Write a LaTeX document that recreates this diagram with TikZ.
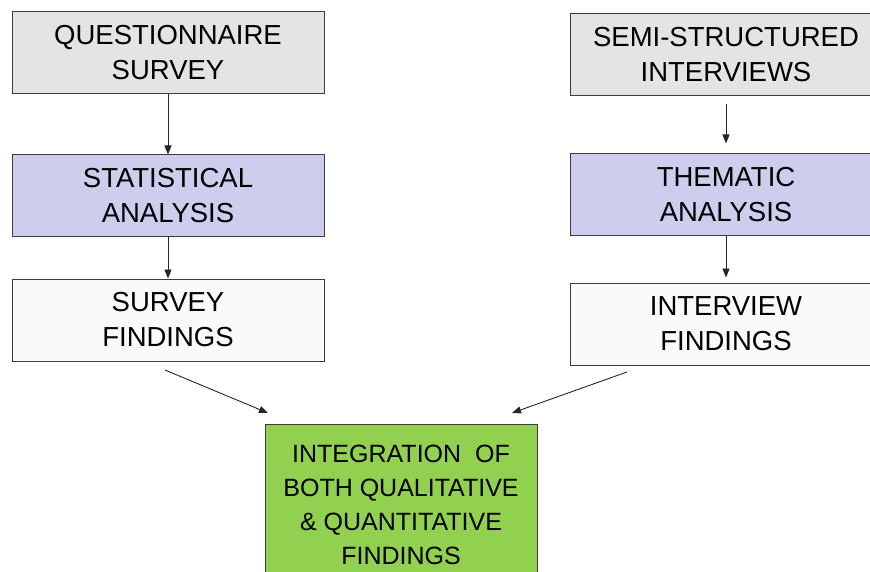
\documentclass[tikz,border=0pt]{standalone}
\usepackage{fontspec}
\setmainfont{Liberation Sans}
\usetikzlibrary{arrows.meta, positioning}

\definecolor{srcgray}{RGB}{228,228,228}
\definecolor{anlblue}{RGB}{205,205,238}
\definecolor{fndwhite}{RGB}{250,250,253}
\definecolor{intgreen}{RGB}{146,208,80}
\definecolor{edgegray}{RGB}{60,60,60}

\begin{document}
\begin{tikzpicture}[x=1pt, y=-1pt,
        box/.style = {draw=edgegray, line width=1pt, minimum width=312pt, minimum height=82pt,
                      align=center, inner sep=0pt, font=\fontsize{27.5}{35}\selectfont},
        source/.style = {box, fill=srcgray},
        analysis/.style = {box, fill=anlblue},
        finding/.style = {box, fill=fndwhite},
        merge/.style = {draw=edgegray, line width=1pt, fill=intgreen, minimum width=272pt,
                        minimum height=160pt, align=center, inner sep=0pt,
                        font=\fontsize{25}{34}\selectfont},
        flow/.style = {-{Triangle[length=9pt,width=7pt]}, line width=0.9pt, black!85}]
    \useasboundingbox (0,0) rectangle (870,572);

    % survey branch
    \node[source] (Q) at (168,53) {QUESTIONNAIRE\\SURVEY};
    \node[analysis] (SA) [below=60pt of Q] {STATISTICAL\\ANALYSIS};
    \node[finding] (SF) [below=41pt of SA] {SURVEY\\FINDINGS};

    % interview branch
    \node[source] (SI) at (726,55) {SEMI-STRUCTURED\\INTERVIEWS};
    \node[analysis] (TA) [below=57pt of SI] {THEMATIC\\ANALYSIS};
    \node[finding] (IF) [below=46pt of TA] {INTERVIEW\\FINDINGS};

    % merged result
    \node[merge, anchor=north] (INT) at (401,424) {INTEGRATION\ \ OF\\BOTH QUALITATIVE\\\& QUANTITATIVE\\FINDINGS};

    \coordinate (sfout) at (165,370);
    \coordinate (ifout) at (627,372);
    \coordinate (intl) at (268,413);
    \coordinate (intr) at (512,413);

    \draw[flow] (Q) -- (SA);
    \draw[flow] (SA) -- (SF);
    \draw[flow, shorten <=8pt, shorten >=10pt] (SI) -- (TA);
    \draw[flow, shorten >=5pt] (TA) -- (IF);

    \draw[flow] (sfout) -- (intl);
    \draw[flow] (ifout) -- (intr);
\end{tikzpicture}
\end{document}
